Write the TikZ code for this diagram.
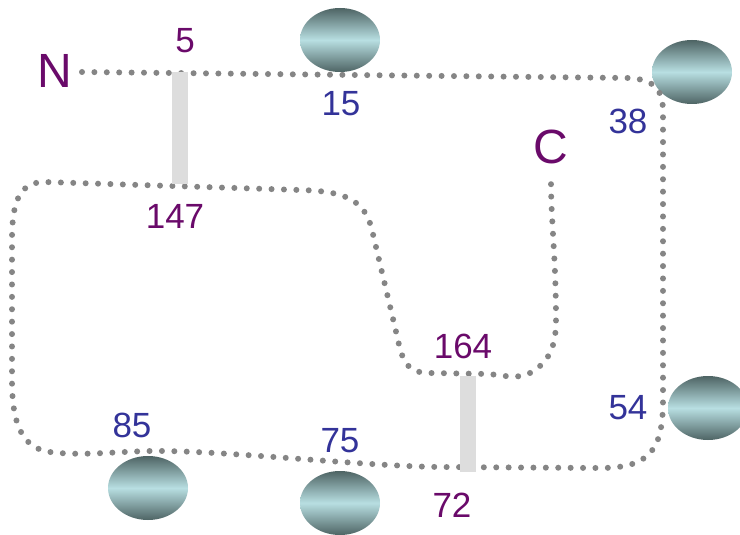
\documentclass[tikz,border=0pt]{standalone}
\usepackage{fontspec}
\setmainfont{Liberation Sans}
\usetikzlibrary{shapes.geometric}
\definecolor{labpurple}{HTML}{6A0A6A}
\definecolor{labblue}{HTML}{333399}
\definecolor{dotgray}{HTML}{858585}
\definecolor{bargray}{HTML}{DDDDDD}
\definecolor{balldark}{HTML}{4E6464}
\definecolor{balllight}{HTML}{B8DFE2}
\tikzset{
  ball/.style={ellipse, minimum width=80pt, minimum height=64pt, inner sep=0pt,
    top color=balldark, bottom color=balldark, middle color=balllight},
  numlab/.style={inner sep=0pt, font=\fontsize{35}{35}\selectfont},
  endlab/.style={inner sep=0pt, font=\fontsize{48}{48}\selectfont, text=labpurple},
  chain/.style={draw=dotgray, line width=6pt, line cap=round, dash pattern=on 0pt off 12.4pt},
  link/.style={fill=bargray, draw=none}
}
\begin{document}
\begin{tikzpicture}[x=1pt,y=-1pt]
\useasboundingbox (0,0) rectangle (740,535);
\clip (0,0) rectangle (740,535);
% balls
\node[ball] (b15) at (340,40) {};
\node[ball] (b38) at (692,72) {};
\node[ball] (b54) at (708,408) {};
\node[ball] (b85) at (148,488) {};
\node[ball] (b75) at (340,503) {};
% ends
\node[endlab] (N) at (55,71) {N};
\node[endlab] (C) at (551,147) {C};
% chain
\coordinate (s) at (82,72);
\coordinate (e) at (551,182);
\draw[chain] (s) -- (630,78) .. controls (655,80) and (663,90) .. (663,112)
  -- (663,400) .. controls (663,450) and (650,468) .. (600,468)
  -- (440,467) .. controls (360,466) and (220,450) .. (150,451)
  .. controls (110,452) and (80,456) .. (50,452)
  .. controls (20,448) and (12,420) .. (12,380)
  -- (12,240) .. controls (12,200) and (20,182) .. (45,182)
  -- (300,190) .. controls (345,191) and (365,200) .. (372,230)
  -- (398,340) .. controls (403,365) and (410,373) .. (430,373)
  -- (490,374) .. controls (510,377) and (520,378) .. (530,373)
  .. controls (550,362) and (556,345) .. (556,320)
  .. controls (556,260) and (551,220) .. (e);
% links
\node[link, minimum width=16pt, minimum height=112pt, inner sep=0pt] (l1) at (180,128) {};
\node[link, minimum width=16pt, minimum height=96pt, inner sep=0pt] (l2) at (468,424) {};
% labels
\node[numlab, text=labpurple] (t5) at (185,41) {5};
\node[numlab, text=labblue] (t15) at (341,104) {15};
\node[numlab, text=labblue] (t38) at (628,121) {38};
\node[numlab, text=labpurple] (t147) at (175,216) {147};
\node[numlab, text=labpurple] (t164) at (463,346) {164};
\node[numlab, text=labblue] (t85) at (132,425) {85};
\node[numlab, text=labblue] (t75) at (340,441) {75};
\node[numlab, text=labblue] (t54) at (628,408) {54};
\node[numlab, text=labpurple] (t72) at (452,505) {72};
\end{tikzpicture}
\end{document}
